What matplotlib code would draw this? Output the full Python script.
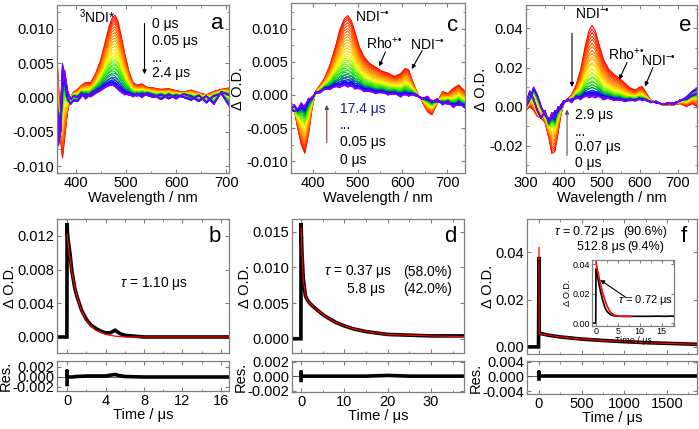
#!/usr/bin/env python3

import numpy as np
import matplotlib
matplotlib.use("Agg")
import matplotlib.pyplot as plt
from matplotlib.colors import LinearSegmentedColormap
from matplotlib.ticker import MultipleLocator, FormatStrFormatter

plt.rcParams["font.family"] = ["Liberation Sans", "DejaVu Sans"]
plt.rcParams["mathtext.fontset"] = "custom"
plt.rcParams["mathtext.rm"] = "Liberation Sans"
plt.rcParams["mathtext.it"] = "Liberation Sans:italic"
plt.rcParams["font.size"] = 10.5

# ==========================
# SPECTRA (panels a, c, e)
# ==========================
wl_a = [362, 366, 370, 374, 378, 384, 390, 396, 404, 412, 420, 430, 440, 450, 458, 466,
        472, 478, 484, 490, 498, 506, 514, 522, 532, 542, 555, 570, 585, 600, 615, 630,
        645, 660, 675, 690, 705]
early_a = [0.007, 0.002, -0.006, -0.0088, -0.006, -0.002, 0.0, 0.0008, 0.0012, 0.0018,
           0.0022, 0.0022, 0.0035, 0.0055, 0.0078, 0.0102, 0.0115, 0.012, 0.0112, 0.0092,
           0.0063, 0.0038, 0.0022, 0.0018, 0.002, 0.0015, 0.0014, 0.0012, 0.0013, 0.0010,
           0.0008, 0.0011, 0.0007, 0.0004, 0.0009, 0.0012, 0.0014]
late_a = [0.002, -0.006, -0.002, 0.005, 0.003, 0.0, -0.001, -0.0005, -0.0006, 0.0002,
          0.0004, 0.0001, 0.0006, 0.001, 0.0014, 0.0017, 0.0018, 0.0017, 0.0014, 0.001,
          0.0006, 0.0003, 0.0004, 0.0002, 0.0005, 0.0003, 0.0, 0.0004, -0.0002, 0.0003,
          0.0, -0.0004, 0.0003, -0.0008, 0.0002, 0.0005, -0.0012]
late2_a = [-0.004, -0.007, -0.005, 0.002, 0.004, 0.001, -0.0003, 0.0002, 0.0, 0.0006,
           -0.0002, 0.0005, 0.0009, 0.0012, 0.0016, 0.0018, 0.0019, 0.0016, 0.0012,
           0.0008, 0.0004, 0.0006, 0.0001, 0.0005, 0.0, 0.0006, 0.0003, -0.0003, 0.0004,
           -0.0002, 0.0005, 0.0001, -0.0006, 0.0002, -0.001, 0.0008, 0.0003]
frac_a = [1.00, 0.97, 0.94, 0.91, 0.88, 0.84, 0.80, 0.76, 0.72, 0.68, 0.64, 0.60, 0.56,
          0.52, 0.48, 0.45, 0.42, 0.39, 0.36, 0.33, 0.30, 0.27, 0.24, 0.21, 0.18, 0.15,
          0.12, 0.10, 0.08, 0.06, 0.05, 0.04, 0.03, 0.02, 0.01, 0.00, 0.00, 0.00]

wl_c = [350, 358, 366, 374, 382, 390, 398, 406, 416, 426, 438, 450, 460, 470, 478, 486,
        494, 504, 514, 526, 540, 554, 568, 582, 596, 606, 614, 622, 632, 644, 656, 666,
        678, 690, 702, 714, 726, 740]
early_c = [-0.001, -0.002, -0.005, -0.0075, -0.0088, -0.006, -0.002, 0.0005, 0.0015,
           0.0025, 0.0045, 0.0072, 0.0098, 0.0115, 0.012, 0.0112, 0.0095, 0.0072, 0.0058,
           0.0048, 0.0042, 0.0036, 0.0033, 0.0028, 0.0032, 0.0040, 0.0038, 0.0022, 0.0005,
           -0.0010, -0.0025, -0.003, -0.0012, 0.0005, 0.0002, 0.0010, 0.0015, 0.0005]
late_c = [-0.002, -0.0025, -0.002, -0.0018, -0.0015, -0.0008, -0.0003, 0.0002, 0.0005,
          0.0008, 0.001, 0.0012, 0.0013, 0.0014, 0.0014, 0.0013, 0.0011, 0.0009, 0.0007,
          0.0005, 0.0004, 0.0003, 0.0002, 0.0001, 0.0, 0.0, 0.0, 0.0, -0.0002, -0.0004,
          -0.0006, -0.0008, -0.001, -0.0012, -0.0014, -0.0015, -0.0016, -0.0016]
late2_c = [-0.0025, -0.0015, -0.0022, -0.0012, -0.002, -0.0005, -0.0006, 0.0004, 0.0003,
           0.001, 0.0008, 0.0014, 0.0011, 0.0016, 0.0012, 0.0015, 0.0009, 0.0011, 0.0005,
           0.0007, 0.0002, 0.0005, 0.0, 0.0003, -0.0003, 0.0002, -0.0002, 0.0001, 0.0,
           -0.0006, -0.0002, -0.001, -0.0006, -0.0015, -0.001, -0.0019, -0.0012, -0.002]
frac_c = [1.00, 0.97, 0.94, 0.90, 0.86, 0.82, 0.78, 0.74, 0.70, 0.66, 0.62, 0.58, 0.54,
          0.50, 0.46, 0.43, 0.40, 0.37, 0.34, 0.31, 0.28, 0.25, 0.22, 0.19, 0.16, 0.14,
          0.12, 0.10, 0.08, 0.06, 0.05, 0.04, 0.03, 0.02, 0.01, 0.00, 0.00, 0.00]

wl_e = [300, 310, 320, 330, 340, 350, 360, 368, 376, 384, 392, 400, 410, 420, 432, 444,
        456, 466, 474, 482, 492, 504, 518, 532, 546, 560, 574, 588, 598, 606, 616, 628,
        642, 658, 674, 690, 706, 722, 738, 750]
early_e = [-0.002, 0.0, -0.002, -0.005, -0.006, -0.008, -0.016, -0.024, -0.023, -0.014,
           -0.004, 0.002, 0.004, 0.006, 0.011, 0.019, 0.031, 0.039, 0.0415, 0.039, 0.032,
           0.024, 0.019, 0.0165, 0.0145, 0.012, 0.0095, 0.0085, 0.0098, 0.0102, 0.007,
           0.0035, 0.002, 0.001, 0.0005, 0.001, 0.0015, 0.0, 0.0015, 0.0]
late_e = [0.0, 0.004, 0.010, 0.006, 0.0, -0.004, -0.006, -0.005, -0.002, -0.002, 0.001,
          0.003, 0.003, 0.0035, 0.004, 0.0045, 0.005, 0.0055, 0.0058, 0.0055, 0.005,
          0.0045, 0.004, 0.0035, 0.0032, 0.003, 0.003, 0.0032, 0.0035, 0.0036, 0.003,
          0.0025, 0.002, 0.0015, 0.0015, 0.002, 0.003, 0.005, 0.008, 0.0095]
late2_e = [0.002, 0.008, 0.004, -0.002, -0.006, -0.002, -0.008, -0.003, -0.006, 0.0,
           -0.001, 0.002, 0.004, 0.002, 0.005, 0.0035, 0.006, 0.0045, 0.0052, 0.0045,
           0.0055, 0.0035, 0.0045, 0.003, 0.0038, 0.0025, 0.0035, 0.0028, 0.004, 0.003,
           0.0035, 0.002, 0.0028, 0.001, 0.002, 0.001, 0.0035, 0.004, 0.006, 0.007]
frac_e = [1.00, 0.95, 0.90, 0.85, 0.80, 0.75, 0.70, 0.65, 0.60, 0.56, 0.52, 0.48, 0.44,
          0.40, 0.37, 0.34, 0.31, 0.28, 0.25, 0.22, 0.19, 0.17, 0.15, 0.13, 0.11, 0.09,
          0.07, 0.06, 0.05, 0.04, 0.03, 0.02, 0.01, 0.00, 0.00, 0.00]

# ==========================
# KINETICS (panels b, d, f)
# ==========================
t_b = [-0.95, -0.02, 0.0, 0.02, 0.05, 0.1, 0.3, 0.5, 0.8, 1.0, 1.5, 2.0, 2.5, 3.0, 3.5,
       4.0, 4.5, 5.0, 5.5, 6.0, 7.0, 8.0, 10.0, 12.0, 14.0, 16.0, 16.9]
data_b = [0.0, 0.0, 0.0135, 0.0128, 0.0122, 0.0116, 0.0099, 0.0078, 0.0058, 0.0049,
          0.0032, 0.0021, 0.0014, 0.0010, 0.0007, 0.0005, 0.0005, 0.0008, 0.0004, 0.0002,
          0.0001, 0.0, 0.0, 0.0, 0.0, 0.0, 0.0]
tfit_b = [0.0, 0.25, 0.5, 0.75, 1.0, 1.5, 2.0, 2.5, 3.0, 4.0, 5.0, 6.0, 8.0, 12.0, 16.9]
fit_b = [0.0122, 0.0097, 0.0077, 0.0062, 0.0049, 0.0031, 0.0020, 0.0013, 0.0008, 0.0003,
         0.0001, 0.0, 0.0, 0.0, 0.0]
tres_b = [0.0, 0.0, 0.0, 0.5, 1.0, 2.0, 3.0, 4.0, 4.6, 5.0, 5.4, 6.0, 8.0, 10.0, 12.0,
          14.0, 16.0, 16.9]
res_b = [-0.0015, 0.0012, 0.0, 0.0, 0.0001, 0.0002, 0.0002, 0.0002, 0.0004, 0.0005,
         0.0003, 0.0001, 0.0, 0.0, 0.0, 0.0, 0.0, 0.0]

t_d = [-1.9, -0.05, 0.0, 0.05, 0.2, 0.5, 1.0, 1.5, 2.0, 3.0, 4.0, 5.0, 6.0, 8.0, 10.0,
       12.0, 15.0, 20.0, 25.0, 30.0, 37.6]
data_d = [0.0, 0.0, 0.0162, 0.0150, 0.0120, 0.0085, 0.0060, 0.0054, 0.0050, 0.0044,
          0.0039, 0.0034, 0.0030, 0.0023, 0.0018, 0.0014, 0.0010, 0.0006, 0.0005, 0.0004,
          0.0004]
tfit_d = [0.0, 0.2, 0.5, 1.0, 1.5, 2.0, 3.0, 4.0, 5.0, 6.0, 8.0, 10.0, 12.0, 15.0, 20.0,
          25.0, 30.0, 37.6]
fit_d = [0.0155, 0.0118, 0.0084, 0.0060, 0.0054, 0.0050, 0.0044, 0.0039, 0.0034, 0.0030,
         0.0023, 0.0018, 0.0014, 0.0010, 0.0006, 0.0005, 0.0004, 0.0003]
tres_d = [0.0, 0.0, 0.0, 5.0, 10.0, 15.0, 20.0, 25.0, 30.0, 37.6]
res_d = [-0.0006, 0.0006, 0.0, 0.0, 0.0, 0.0, 0.0001, 0.0, 0.0, 0.0]

t_f = [-130, -5, 0, 2, 5, 100, 250, 500, 750, 1000, 1250, 1500, 1850]
data_f = [0.0, 0.0, 0.038, 0.0060, 0.0058, 0.0050, 0.0042, 0.0033, 0.0027, 0.0022,
          0.0018, 0.0015, 0.0011]
tfit_f = [0, 4, 100, 250, 500, 750, 1000, 1250, 1500, 1850]
fit_f = [0.042, 0.0056, 0.0050, 0.0042, 0.0033, 0.0027, 0.0022, 0.0018, 0.0015, 0.0011]
tres_f = [0, 0, 0, 500, 1000, 1500, 1850]
res_f = [-0.0008, 0.0012, 0.0, 0.0, 0.0, 0.0, 0.0]

# inset of panel f (first 18 us)
t_in = [-0.9, -0.05, 0.0, 0.1, 0.3, 0.6, 1.0, 1.5, 2.0, 2.5, 3.0, 3.5, 4.0, 5.0, 6.0,
        8.0, 10.0, 12.0, 14.0, 16.0, 17.0, 17.8]
data_in = [0.0, 0.0, 0.037, 0.036, 0.033, 0.028, 0.022, 0.016, 0.011, 0.008, 0.0065,
           0.0055, 0.005, 0.0047, 0.0046, 0.0046, 0.0046, 0.0046, 0.0047, 0.0046, 0.0048,
           0.0046]
tfit_in = [0.0, 0.5, 1.0, 1.5, 2.0, 2.5, 3.0, 3.5, 4.0, 5.0, 6.0, 8.0]
fit_in = [0.0415, 0.034, 0.027, 0.021, 0.016, 0.012, 0.0088, 0.0068, 0.0056, 0.0048,
          0.0046, 0.0045]

# ==========================
# STYLE
# ==========================
GRAY = "#7f7f7f"
cmap = LinearSegmentedColormap.from_list(
    "rb", ["#ff0000", "#ff8000", "#ffff00", "#00e000", "#0000ff", "#8000ff"])


def style(ax, xmaj, xmin, ymaj, ymin=None):
    for s in ax.spines.values():
        s.set_color(GRAY)
        s.set_linewidth(0.9)
    ax.xaxis.set_major_locator(MultipleLocator(xmaj))
    ax.xaxis.set_minor_locator(MultipleLocator(xmin))
    ax.yaxis.set_major_locator(MultipleLocator(ymaj))
    if ymin:
        ax.yaxis.set_minor_locator(MultipleLocator(ymin))
    ax.tick_params(which="both", direction="in", top=True, right=True, color=GRAY)
    ax.tick_params(which="major", length=3, pad=2)
    ax.tick_params(which="minor", length=1.8)


def spectra(ax, wl, early, lates, frac):
    early = np.array(early)
    n = len(frac)
    for i, f in enumerate(frac):
        late = np.array(lates[i % len(lates)])
        ax.plot(wl, late + f * (early - late), color=cmap(i / (n - 1)), lw=0.8)


def arrow(ax, tip, tail, color="black"):
    ax.annotate("", xy=tip, xytext=tail,
                arrowprops=dict(arrowstyle="-|>", color=color, lw=0.8,
                                mutation_scale=6, shrinkA=0, shrinkB=0))


fig = plt.figure(figsize=(6.99, 4.29), dpi=100)
W, H = 699.0, 429.0


def add_axes(x0, x1, y0, y1):
    return fig.add_axes([x0 / W, 1 - y1 / H, (x1 - x0) / W, (y1 - y0) / H])


ndi = "NDI$^{-\u2022}$"
rho = "Rho$^{+\u2022}$"
us = "\u03bcs"

# --------------------------
# Panel a
# --------------------------
ax = add_axes(57, 229, 5, 173)
spectra(ax, wl_a, early_a, [late_a, late2_a], frac_a)
ax.set_xlim(363, 705)
ax.set_ylim(-0.011, 0.0135)
style(ax, 100, 50, 0.005, 0.0025)
ax.yaxis.set_major_formatter(FormatStrFormatter("%.3f"))
ax.set_xlabel("Wavelength / nm", labelpad=1)
ax.text(443, 0.0118, r"$^3$NDI*", ha="center", va="center", fontsize=10)
for y, s in [(0.0107, "0 " + us), (0.0082, "0.05 " + us), (0.0058, "..."),
             (0.0036, "2.4 " + us)]:
    ax.text(552, y, s, ha="left", va="center", fontsize=10)
arrow(ax, (537, 0.0034), (537, 0.0108))
ax.text(0.93, 0.89, "a", transform=ax.transAxes, ha="center", va="center", fontsize=16)

# --------------------------
# Panel c
# --------------------------
ax = add_axes(291, 465, 3, 173)
spectra(ax, wl_c, early_c, [late_c, late2_c], frac_c)
ax.set_xlim(351, 740)
ax.set_ylim(-0.0118, 0.0139)
style(ax, 100, 50, 0.005, 0.0025)
ax.yaxis.set_major_formatter(FormatStrFormatter("%.3f"))
ax.set_xlabel("Wavelength / nm", labelpad=1)
ax.set_ylabel("\u0394 O.D.", labelpad=1)
ax.text(532, 0.0117, ndi, ha="center", va="center", fontsize=10)
ax.text(559, 0.0078, rho, ha="center", va="center", fontsize=10)
ax.text(655, 0.0075, ndi, ha="center", va="center", fontsize=10)
arrow(ax, (548, 0.0043), (562, 0.0065))
arrow(ax, (621, 0.0039), (644, 0.0067))
arrow(ax, (431, -0.0015), (431, -0.0072), color="#6b4c3a")
ax.text(460, -0.0021, "17.4 " + us, ha="left", va="center", fontsize=10, color="#1c1c8c")
for y, s in [(-0.0046, "..."), (-0.0071, "0.05 " + us), (-0.0098, "0 " + us)]:
    ax.text(460, y, s, ha="left", va="center", fontsize=10)
ax.text(0.93, 0.87, "c", transform=ax.transAxes, ha="center", va="center", fontsize=16)

# --------------------------
# Panel e
# --------------------------
ax = add_axes(526, 697, 5, 173)
spectra(ax, wl_e, early_e, [late_e, late2_e], frac_e)
ax.set_xlim(300, 750)
ax.set_ylim(-0.034, 0.052)
style(ax, 100, 50, 0.02, 0.01)
ax.yaxis.set_major_formatter(FormatStrFormatter("%.2f"))
ax.set_xlabel("Wavelength / nm", labelpad=1)
ax.set_ylabel("\u0394 O.D.", labelpad=1)
ax.text(474, 0.0470, ndi, ha="center", va="center", fontsize=10)
ax.text(563, 0.0268, rho, ha="center", va="center", fontsize=10)
ax.text(649, 0.0232, ndi, ha="center", va="center", fontsize=10)
arrow(ax, (421, 0.0100), (421, 0.0375))
arrow(ax, (545, 0.0138), (566, 0.0226))
arrow(ax, (613, 0.0103), (634, 0.0200))
arrow(ax, (408, -0.0015), (408, -0.0250), color="#555555")
for y, s in [(-0.0041, "2.9 " + us), (-0.0128, "..."), (-0.0205, "0.07 " + us),
             (-0.0290, "0 " + us)]:
    ax.text(429, y, s, ha="left", va="center", fontsize=10)
ax.text(0.93, 0.88, "e", transform=ax.transAxes, ha="center", va="center", fontsize=16)


# --------------------------
# Kinetic panels
# --------------------------
def kinetic(x0, x1, ymain, yres, t, d, tf, fv, tr, rv, xlim, ylim, rlim,
            xmaj, xmin, ymaj, rmaj, yfmt, letter):
    ax = add_axes(x0, x1, ymain[0], ymain[1])
    ax.plot(t, d, color="black", lw=2.6, solid_joinstyle="miter")
    ax.plot(tf, fv, color="red", lw=0.9)
    ax.set_xlim(*xlim)
    ax.set_ylim(*ylim)
    style(ax, xmaj, xmin, ymaj)
    ax.yaxis.set_major_formatter(FormatStrFormatter(yfmt))
    ax.tick_params(labelbottom=False)
    ax.set_ylabel("\u0394 O.D.", labelpad=0)
    ax.text(0.92, 0.87, letter, transform=ax.transAxes, ha="center", va="center",
            fontsize=16)

    axr = add_axes(x0, x1, yres[0], yres[1])
    axr.axhline(0, color="#444444", lw=0.6)
    axr.plot(tr, rv, color="black", lw=2.6)
    axr.set_xlim(*xlim)
    axr.set_ylim(*rlim)
    style(axr, xmaj, xmin, rmaj)
    axr.yaxis.set_major_formatter(FormatStrFormatter("%.3f"))
    axr.set_xlabel("Time / " + us, labelpad=0)
    axr.set_ylabel("Res.", labelpad=0)
    return ax, axr


ax_b, axr_b = kinetic(57, 229, (219, 353), (361, 391), t_b, data_b, tfit_b, fit_b,
                      tres_b, res_b, (-1.05, 16.85), (-0.0019, 0.014), (-0.0028, 0.0032),
                      4, 2, 0.004, 0.002, "%.3f", "b")
ax_b.text(5.5, 0.0064, r"$\tau$ = 1.10 " + us, ha="left", va="center", fontsize=10)

ax_d, axr_d = kinetic(292, 464, (219, 353), (361, 392), t_d, data_d, tfit_d, fit_d,
                      tres_d, res_d, (-2.1, 37.6), (-0.002, 0.0168), (-0.0022, 0.0021),
                      10, 5, 0.005, 0.002, "%.3f", "d")
ax_d.text(5.3, 0.0094, r"$\tau$ = 0.37 " + us, ha="left", va="center", fontsize=10)
ax_d.text(23.5, 0.0094, "(58.0%)", ha="left", va="center", fontsize=10)
ax_d.text(10.6, 0.0070, "5.8 " + us, ha="left", va="center", fontsize=10)
ax_d.text(23.5, 0.0070, "(42.0%)", ha="left", va="center", fontsize=10)

ax_f, axr_f = kinetic(527, 697, (219, 354), (361, 394), t_f, data_f, tfit_f, fit_f,
                      tres_f, res_f, (-140, 1850), (-0.003, 0.054), (-0.0048, 0.0042),
                      500, 250, 0.02, 0.004, "%.2f", "f")
ax_f.text(176, 0.0483, r"$\tau$ = 0.72 " + us, ha="left", va="center", fontsize=9)
ax_f.text(985, 0.0483, "(90.6%)", ha="left", va="center", fontsize=9)
ax_f.text(445, 0.0420, "512.8 " + us, ha="left", va="center", fontsize=9)
ax_f.text(1030, 0.0420, "(9.4%)", ha="left", va="center", fontsize=9)

# inset
axi = add_axes(592, 674, 260, 326)
axi.plot(t_in, data_in, color="black", lw=1.2)
axi.plot(tfit_in, fit_in, color="red", lw=1.2)
axi.set_xlim(-0.9, 17.8)
axi.set_ylim(-0.002, 0.043)
style(axi, 5, 2.5, 0.02)
axi.tick_params(labelsize=6.5, pad=1, length=2)
axi.yaxis.set_major_formatter(FormatStrFormatter("%.2f"))
axi.set_xlabel("Time / " + us, fontsize=6.5, labelpad=0)
axi.set_ylabel("\u0394 O.D.", fontsize=6.5, labelpad=1)
arrow(axi, (0.95, 0.0295), (6.9, 0.0173))
axi.text(5.0, 0.0158, r"$\tau$ = 0.72 " + us, ha="left", va="center", fontsize=8)

plt.savefig("out.png", dpi=100)
plt.close()
